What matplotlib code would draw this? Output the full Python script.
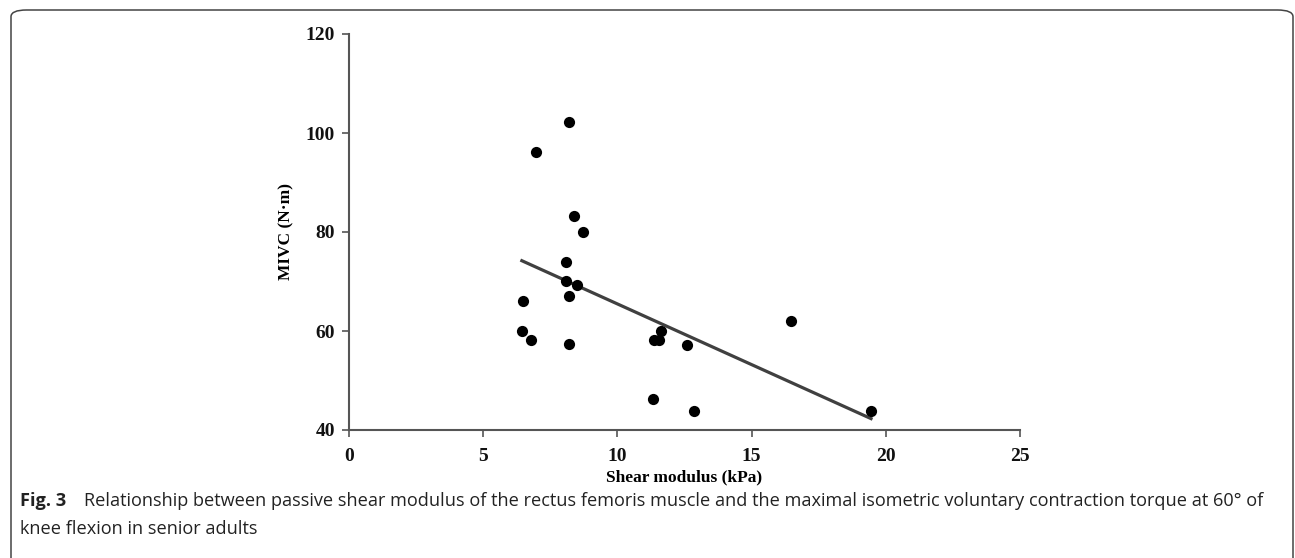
import numpy as np
import matplotlib.pyplot as plt
from matplotlib.patches import FancyBboxPatch

# shear modulus (kPa) vs MIVC torque (N·m)
shear_kpa = [8.2, 6.98, 8.37, 8.73, 8.09, 8.1, 8.5, 8.2, 6.5, 6.44,
             6.79, 8.2, 11.38, 11.55, 11.64, 12.6, 11.32, 12.85, 16.46, 19.45]
mivc_nm = [102.2, 96.2, 83.2, 80.1, 74.0, 70.2, 69.2, 67.1, 66.1, 60.1,
           58.2, 57.3, 58.2, 58.2, 60.1, 57.2, 46.2, 43.9, 62.0, 43.9]

# linear trend line end points
trend_x = [6.44, 19.45]
trend_y = [74.2, 42.3]

x_ticks = [0, 5, 10, 15, 20, 25]
y_ticks = [40, 60, 80, 100, 120]

serif = ['Liberation Serif', 'DejaVu Serif']
sans = ['Open Sans', 'DejaVu Sans']

fig = plt.figure(figsize=(12.95, 5.58), dpi=100)
ax = fig.add_axes([349 / 1295, 1 - 430 / 558, (1020 - 349) / 1295, (430 - 34) / 558])

ax.scatter(shear_kpa, mivc_nm, s=65, color='black', zorder=3, linewidths=0)
ax.plot(trend_x, trend_y, color='#404040', linewidth=2.3, zorder=2)

ax.set_xlim(0, 25)
ax.set_ylim(40, 120)
ax.set_xticks(x_ticks)
ax.set_yticks(y_ticks)

for side in ['top', 'right']:
    ax.spines[side].set_visible(False)
for side in ['left', 'bottom']:
    ax.spines[side].set_color('#555555')
    ax.spines[side].set_linewidth(1.5)
ax.tick_params(direction='out', length=5, width=1.2, color='#555555', pad=5)
ax.tick_params(axis='x', pad=8)

for lab in ax.get_xticklabels() + ax.get_yticklabels():
    lab.set_fontfamily(serif)
    lab.set_fontweight('bold')
    lab.set_fontsize(14)
    lab.set_color('#111111')

ax.set_xlabel('Shear modulus (kPa)', fontfamily=serif, fontweight='bold', fontsize=12.5, labelpad=3)
ax.set_ylabel('MIVC (N·m)', fontfamily=serif, fontweight='bold', fontsize=12.5, labelpad=8)

# caption
cap_size = 13.1
fig.text(20 / 1295, 1 - 501 / 558, 'Fig. 3', fontfamily=sans, fontweight='bold',
         fontsize=cap_size, va='center', ha='left', color='#222222')
fig.text(84 / 1295, 1 - 501 / 558,
         'Relationship between passive shear modulus of the rectus femoris muscle and the maximal '
         'isometric voluntary contraction torque at 60° of',
         fontfamily=sans, fontsize=cap_size, va='center', ha='left', color='#222222')
fig.text(20 / 1295, 1 - 529 / 558, 'knee flexion in senior adults', fontfamily=sans,
         fontsize=cap_size, va='center', ha='left', color='#222222')

# rounded frame around the figure
box = FancyBboxPatch((11 / 1295, 1 - 570 / 558), (1293 - 11) / 1295, 560 / 558,
                     boxstyle='round,pad=0,rounding_size=0.012',
                     transform=fig.transFigure, fill=False, edgecolor='#444444',
                     linewidth=1.1, clip_on=False)
fig.patches.append(box)

fig.savefig('out.png', dpi=100)
